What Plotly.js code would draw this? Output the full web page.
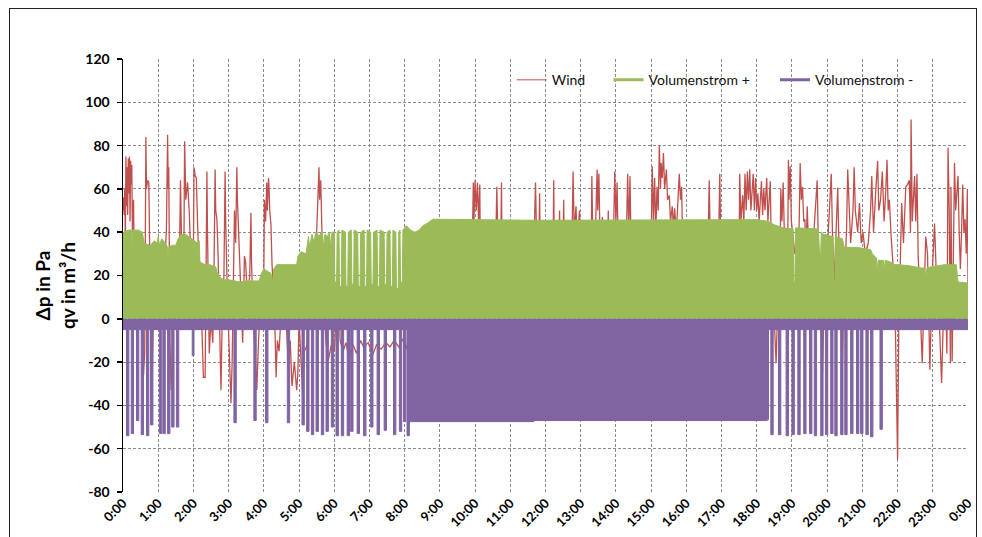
<!DOCTYPE html>
<html>
<head>
<meta charset="utf-8">
<script src="https://cdn.plot.ly/plotly-3.0.1.min.js"></script>
<style>
  html, body { margin: 0; padding: 0; background: #fff; }
  #wrap { position: relative; width: 982px; height: 537px; overflow: hidden; }
  #frame { position: absolute; left: 9px; top: 8px; width: 968px; height: 560px; border: 1.5px solid #222; box-sizing: border-box; pointer-events: none; }
  #chart { position: absolute; left: 0; top: 0; width: 982px; height: 537px; }
</style>
</head>
<body>
<div id="wrap">
  <div id="chart"></div>
  <div id="frame"></div>
</div>
<script>
// ---- data (time in minutes since 0:00) ----
const hourTicks = [0,60,120,180,240,300,360,420,480,540,600,660,720,780,840,900,960,1020,1080,1140,1200,1260,1320,1380,1440];
const hourLabels = ["0:00","1:00","2:00","3:00","4:00","5:00","6:00","7:00","8:00","9:00","10:00","11:00","12:00","13:00","14:00","15:00","16:00","17:00","18:00","19:00","20:00","21:00","22:00","23:00","0:00"];
const yTicks = [-80,-60,-40,-20,0,20,40,60,80,100,120];
const yLabels = ["-80","-60","-40","-20","0","20","40","60","80","100","120"];
const yTitle = "Δp in Pa<br>qv in m³/h";

const windT = [0,1,2,3,4,5,6,7,8,9,10,11,12,13,14,15,16,18,19,22,26,30,33,35,37,38,39,40,42,44,46,48,50,52,56,60,65,70,74,76,77,78,80,82,84,86,92,96,98,100,104,105,107,110,113,116,120,
121,123,125,127,130,134,137,140,142,143,144,147,150,153,155,157,158,160,162,165,167,169,172,174,175,178,182,184,186,188,190,192,194,195,197,200,204,207,209,212,216,218,219,222,225,228,231,235,240,241,243,245,246,248,249,250,252,254,258,261,263,266,270,276,282,285,288,292,296,298,300,
303,306,309,314,320,326,330,332,334,335,337,339,342,346,350,355,360,364,366,367,370,375,380,385,392,398,405,410,418,425,432,440,448,455,462,470,478,483,486,490,500,530,560,
595,597,598,600,602,604,606,608,609,620,635,637,639,644,645,646,670,700,703,705,709,710,711,725,733,734,735,743,744,745,750,751,752,765,767,769,772,774,778,780,790,798,799,801,805,808,809,811,813,817,818,826,827,828,836,838,840,842,844,858,860,862,864,866,880,
900,902,904,906,908,910,912,914,916,917,919,921,923,926,928,931,933,936,938,940,943,948,950,952,954,970,997,999,1001,1015,1017,1019,1035,
1050,1051,1053,1056,1058,1060,1062,1064,1066,1068,1070,1074,1076,1078,1080,1082,1084,1088,1090,1092,1094,1097,1099,1103,1105,1110,1113,1116,1120,1121,1123,1125,1127,1133,1134,1135,1137,1139,1145,1152,1154,1156,1158,1160,1162,1164,1166,1168,1175,1183,1185,1189,1192,1195,1200,
1207,1209,1212,1215,1218,1220,1223,1226,1229,1233,1235,1238,1240,1244,1246,1248,1252,1255,1258,1261,1265,1270,1274,1276,1279,1283,1286,1288,1291,1294,1297,1300,1302,1304,1306,1309,1312,1316,1320,1322,1324,1327,1330,1334,1337,1340,1342,1343,1345,1349,1351,1353,1355,1359,1362,1365,1368,1371,1375,1379,1383,1386,1391,1395,1398,1402,1404,1406,1408,1410,1411,1413,1415,1417,1419,1423,1425,1427,1429,1431,1433,1435,1437,1439,1440];
const windV = [50,56,48,60,35,75,52,70,48,74,58,75,45,73,62,71,40,55,25,30,20,8,-10,-26,-15,30,84,60,64,63,30,-20,-23,5,20,30,25,20,41,85,60,70,-10,-33,-20,15,25,25,64,30,40,82,55,63,49,25,30,
70,66,65,45,20,0,-27,-27,20,68,40,-16,0,-11,20,69,50,46,30,-10,-33,0,20,68,45,10,-20,-39,-20,20,50,35,70,55,40,20,-11,29,26,10,20,49,26,0,-20,-33,-10,10,20,55,45,63,50,65,60,50,44,25,5,-27,-10,-15,5,10,-23,-10,-31,-20,-33,-25,0,
-19,-34,-15,-12,10,20,40,60,70,55,64,40,10,-11,-19,-12,-15,5,25,20,-10,-15,-11,-18,-12,-16,-10,-13,-11,-17,-12,-14,-11,-13,-10,-13,-9,-14,-10,0,20,30,25,
30,63,45,64,50,63,45,62,30,25,30,61,35,40,63,30,25,30,63,35,40,58,30,25,35,64,30,35,50,30,35,55,30,35,68,40,52,35,50,30,25,35,66,30,40,69,50,67,35,47,30,35,50,30,40,68,45,63,30,40,67,40,66,30,25,
35,70.5,45,65,40,61,50,80,60,72,65,76.6,60,69,55,57,45,52,42,51,40,67,55,61,30,25,35,64,30,35,67,30,25,
35,67,45,57,45,67,50,68,55,69,50,67,50,65,50,58,45,63.5,48,60,50,65,45,63.5,30,0,-20.5,10,35,60,45,63,40,40,73.5,55,70.5,45,30,40,72,55,61,45,46,30,52,35,30,64,35,0,-25,10,30,
67,40,17,40,60.5,35,0,-20.5,17,40,69,45,35,50,70,50,40,53.5,35,40,30,35,50,66,40,60,73,50,55,68,45,60,73.5,50,55,38,26,0,-65,-5,20,53.5,35,61,62,64,40,92,45,66,45,67,30,0,-20.5,10,38,30,-23.5,20,44,20,0,-29.7,0,10,-16,79,50,-20.5,61,-19.7,30,72,50,66,40,23,40,62,40,46,30,60,15];

const plusT = [0,1,10,14,15,16,26,33,36,45,46,47,53,58,60,62,66,72,76,77,78,84,90,94,100,106,112,118,122,126,130,131,132,140,148,158,160,166,172,180,190,200,210,220,232,236,240,246,252,255,257,262,270,280,290,296,298,304,312,316,318,322,326,328,329,330,334,338,340,342,344,348,352,354,356,
360,361,364,365,368,369,372,373,379,380,383,384,389,390,393,394,400,401,404,405,411,412,415,416,422,423,426,427,433,434,437,438,445,446,449,450,455,456,459,460,465,466,469,470,472,473,476,477,
480,483,490,497,505,511,518,523,528,700,900,1080,1100,1105,1109,1125,1142,1143,1145,1146,1185,1187,1189,1190,1194,1210,1211,1213,1214,1226,1229,1250,1274,1277,1284,1285,1287,1296,1297,1299,1310,1311,1313,1320,1340,1360,1366,1368,1370,1377,1390,1400,1420,1423,1440];
const plusV = [27,40,41,41,26,41,41,40,35,34,28,34,36,35,38,34,37,35,33,25,33,34,34,37,39,39,38,37,36,35,36,27,26,25,25,24,22,19,18,18,17.5,17,17.5,17.5,17.5,21,23,22,21,17,23,25,25,25,25,25,29,31,30,38,33,39,35,40,30,40,38,40,39,33,39,38,40,32,40,
40,17,17,40,41,15,15,41,40,15,15,40,41,16,16,41,40,15,15,40,41,15,15,41,40,16,16,40,41,15,15,41,40,16,16,40,41,15,15,41,40,14,14,40,41,17,17,41,
42,43,41,40,41,43,44,45,46,45.5,45.5,45.8,45,44,43.5,42,41.5,17,17,42,41.5,30,30,40,39,38,17,17,38,37,33,33,32,30,28,22,27,27,22,27,26,22,25,25,24.5,23.5,23.5,19,23.5,24,24.5,25,25,17,16.5];

const minusT = [0,6,10,14,18,23,27,31,35,40,44,47,51,62,66,68,72,76,80,83,87,91,95,118,121,189,193,223,227,243,247,280,284,305,309,313,317,321,325,329,333,338,342,346,350,355,359,363,367,372,376,382,386,388,392,399,403,410,414,422,426,433,437,445,449,461,465,471,475,478,482,484,488,700,900,1098,1100,1104,1108,1117,1121,1130,1134,1140,1144,1150,1154,1160,1164,1170,1174,1178,1182,1189,1193,1197,1201,1206,1210,1213,1217,1223,1227,1230,1234,1240,1244,1250,1254,1257,1261,1266,1270,1274,1278,1290,1294,1440];
const minusV = [-5,-54,-5,-53,-5,-47,-5,-53.5,-5,-54,-5,-49,-5,-53,-5,-53,-5,-53,-5,-50,-5,-50,-5,-17,-5,-48,-5,-47,-5,-48,-5,-48,-5,-49,-5,-52,-5,-53.5,-5,-52,-5,-53.5,-5,-52,-5,-50,-5,-54,-5,-54,-5,-54,-5,-52,-5,-53,-5,-54,-5,-50,-5,-53.5,-5,-51.5,-5,-53.5,-5,-52,-5,-47.5,-5,-54,-47.5,-47,-47,-46.5,-5,-53.5,-5,-53.5,-5,-54,-5,-53.5,-5,-53.5,-5,-53,-5,-53,-5,-54,-5,-54,-5,-53.5,-5,-53,-5,-54,-5,-53.5,-5,-53.5,-5,-53,-5,-53,-5,-53,-5,-53.5,-5,-54.5,-5,-51,-5,-5];

const seriesNames = ["Wind", "Volumenstrom +", "Volumenstrom -"];
const colors = { wind: "#C0504D", plus: "#9BBB59", minus: "#8064A2" };

// ---- traces ----
const traces = [
  { x: windT, y: windV, type: "scatter", mode: "lines", name: seriesNames[0],
    line: { color: colors.wind, width: 1.3 }, showlegend: false, hoverinfo: "skip" },
  { x: plusT, y: plusV, type: "scatter", mode: "lines", name: seriesNames[1],
    line: { color: colors.plus, width: 1 }, fill: "tozeroy", fillcolor: colors.plus, showlegend: false, hoverinfo: "skip" },
  { x: minusT, y: minusV, type: "scatter", mode: "lines", name: seriesNames[2],
    line: { color: colors.minus, width: 1, shape: "hv" }, fill: "tozeroy", fillcolor: colors.minus, showlegend: false, hoverinfo: "skip" },
  // legend-only entries (line style as in the original legend)
  { x: [null], y: [null], type: "scatter", mode: "lines", name: seriesNames[0], line: { color: colors.wind, width: 1 }, legend: "legend" },
  { x: [null], y: [null], type: "scatter", mode: "lines", name: seriesNames[1], line: { color: colors.plus, width: 3 }, legend: "legend2" },
  { x: [null], y: [null], type: "scatter", mode: "lines", name: seriesNames[2], line: { color: colors.minus, width: 3 }, legend: "legend3" }
];

const legFont = { family: "Lato, 'Open Sans', sans-serif", size: 14, color: "#111" };
const legBase = { orientation: "h", yanchor: "middle", y: 0.951, xanchor: "left", bgcolor: "rgba(0,0,0,0)", borderwidth: 0, font: legFont };

const gridCol = "#8c8c8c";
const gridDash = "3px,2px";
const layout = {
  width: 982, height: 537,
  margin: { l: 123, r: 14, t: 59, b: 45 },
  paper_bgcolor: "#ffffff", plot_bgcolor: "#ffffff",
  font: { family: "Lato, 'Open Sans', sans-serif", color: "#000" },
  showlegend: true,
  legend: Object.assign({}, legBase, { x: 0.460 }),
  legend2: Object.assign({}, legBase, { x: 0.5746 }),
  legend3: Object.assign({}, legBase, { x: 0.7716 }),
  xaxis: {
    range: [0, 1440], tickmode: "array", tickvals: hourTicks, ticktext: hourLabels,
    tickangle: -45, tickfont: { size: 13, weight: "bold", color: "#000" },
    showgrid: true, gridcolor: gridCol, griddash: gridDash, gridwidth: 1,
    zeroline: false, showline: false, ticks: "", fixedrange: true
  },
  yaxis: {
    range: [-80, 120], tickmode: "array", tickvals: yTicks, ticktext: yLabels,
    tickfont: { size: 14, weight: "bold", color: "#000" },
    showgrid: true, gridcolor: gridCol, griddash: gridDash, gridwidth: 1,
    zeroline: false, showline: true, linecolor: "#000", linewidth: 1.5,
    ticks: "outside", ticklen: 5, tickcolor: "#000", tickwidth: 1.5, ticklabelstandoff: 4,
    fixedrange: true
  },
  annotations: [{
    text: yTitle, textangle: -90, showarrow: false,
    xref: "paper", yref: "paper", x: -0.0805, y: 0.478, xanchor: "center", yanchor: "middle",
    font: { family: "Lato, 'Open Sans', sans-serif", size: 19, weight: "bold", color: "#000" }
  }]
};

Plotly.newPlot("chart", traces, layout, { displayModeBar: false, staticPlot: true });
</script>
</body>
</html>
